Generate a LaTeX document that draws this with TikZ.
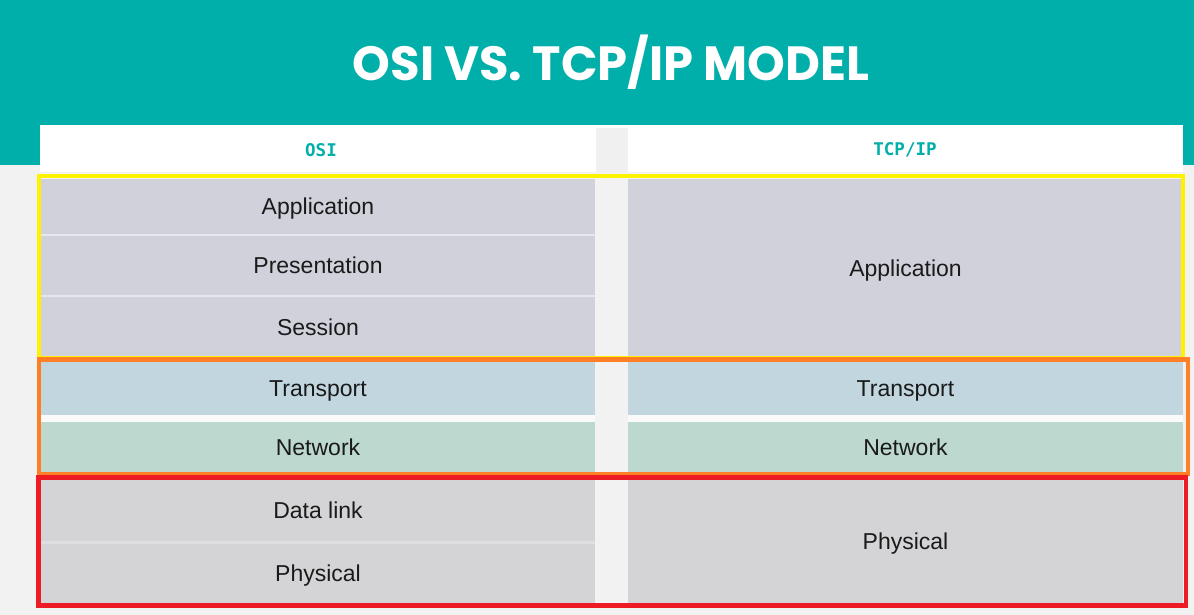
\documentclass[tikz,border=0pt]{standalone}
\usepackage{fontspec}
\setmainfont{Liberation Sans}
\newfontfamily\titlefont{Poppins}
\newfontfamily\headfont{DejaVu Sans Mono}
\definecolor{teal}{HTML}{00AFA9}
\definecolor{bgc}{HTML}{F2F2F2}
\definecolor{gapc}{HTML}{F0F0F0}
\definecolor{appc}{HTML}{D1D1DC}
\definecolor{trc}{HTML}{C2D6DF}
\definecolor{netc}{HTML}{BCD8CF}
\definecolor{phyc}{HTML}{D4D4D6}
\definecolor{sepc}{HTML}{E6E6EC}
\definecolor{textc}{HTML}{1A1A1A}
\definecolor{yel}{HTML}{FFF200}
\definecolor{ora}{HTML}{FF7F27}
\definecolor{redc}{HTML}{ED1C24}
\begin{document}
\begin{tikzpicture}[x=1pt,y=-1pt,
  layerL/.style={rectangle, inner sep=0pt, minimum width=554pt, text=textc, text height=16.5pt, text depth=0pt, font=\fontsize{23}{23}\selectfont},
  layerR/.style={rectangle, inner sep=0pt, minimum width=555pt, text=textc, text height=16.5pt, text depth=0pt, font=\fontsize{23}{23}\selectfont},
  colhead/.style={text=teal, font=\headfont\bfseries\fontsize{17.5}{17.5}\selectfont},
  outline/.style={line width=4.5pt}]
\useasboundingbox (0,0) rectangle (1194,615);
% background
\fill[bgc] (0,0) rectangle (1194,615);
\fill[teal] (0,0) rectangle (1194,165);
\fill[white] (40,125) rectangle (1183,172);
\fill[gapc] (596,128) rectangle (628,172);
% title
\node[text=white, font=\titlefont\bfseries\fontsize{48}{48}\selectfont] (title) at (611,62) {OSI VS. TCP/IP MODEL};
% column headers
\node[colhead] (hosi) at (321,150) {OSI};
\node[colhead] (htcp) at (905,150) {TCP/IP};
% column backgrounds (separators)
\fill[sepc] (41,179) rectangle (595,357);
\fill[white!96!gray] (41,357) rectangle (595,479);
\fill[white!96!gray] (628,357) rectangle (1183,479);
\fill[sepc!60!phyc] (41,479) rectangle (595,603);
% OSI layers
\node[layerL, fill=appc, minimum height=55pt] (oapp) at (318,206.5) {Application};
\node[layerL, fill=appc, minimum height=59pt] (opre) at (318,265.5) {Presentation};
\node[layerL, fill=appc, minimum height=60pt] (oses) at (318,327) {Session};
\node[layerL, fill=trc, minimum height=54pt] (otra) at (318,388) {Transport};
\node[layerL, fill=netc, minimum height=51pt] (onet) at (318,447.5) {Network};
\node[layerL, fill=phyc, minimum height=62pt] (odat) at (318,510) {Data link};
\node[layerL, fill=phyc, minimum height=59pt] (ophy) at (318,573.5) {Physical};
% TCP/IP layers
\node[layerR, fill=appc, minimum height=178pt] (tapp) at (905.5,268) {Application};
\node[layerR, fill=trc, minimum height=54pt] (ttra) at (905.5,388) {Transport};
\node[layerR, fill=netc, minimum height=51pt] (tnet) at (905.5,447.5) {Network};
\node[layerR, fill=phyc, minimum height=124pt] (tphy) at (905.5,541) {Physical};
% outlines
\draw[outline, yel] (39,176) rectangle (1183,358);
\draw[outline, ora] (39,359.5) rectangle (1188,474);
\draw[outline, redc] (38.5,477.5) rectangle (1186,605.5);
\end{tikzpicture}
\end{document}
